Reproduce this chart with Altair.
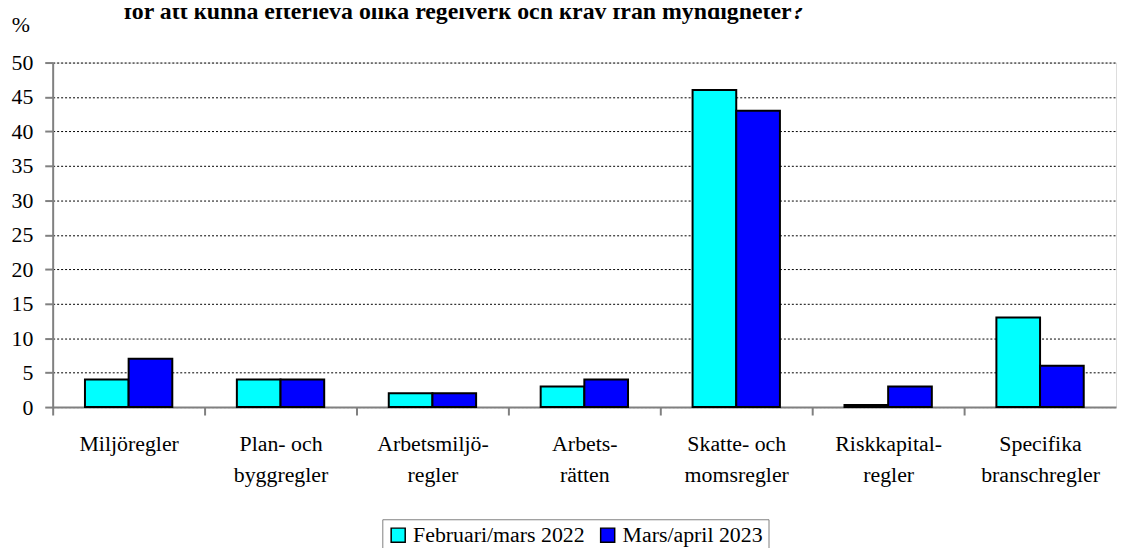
import altair as alt
import pandas as pd

categories = ["Miljöregler", "Plan- och\nbyggregler", "Arbetsmiljö-\nregler", "Arbets-\nrätten",
              "Skatte- och\nmomsregler", "Riskkapital-\nregler", "Specifika\nbranschregler"]
series = ["Februari/mars 2022", "Mars/april 2023"]
values_2022 = [4, 4, 2, 3, 46, 0.3, 13]
values_2023 = [7, 4, 2, 4, 43, 3, 6]
y_ticks = [0, 5, 10, 15, 20, 25, 30, 35, 40, 45, 50]
title_text = "för att kunna efterleva olika regelverk och krav från myndigheter?"
colors = ["#00FFFF", "#0000FF"]

rows = []
for c, a, b in zip(categories, values_2022, values_2023):
    rows.append({"kategori": c, "serie": series[0], "varde": a})
    rows.append({"kategori": c, "serie": series[1], "varde": b})
df = pd.DataFrame(rows)

FONT = "Liberation Serif"
FS = 22
W, H = 1071, 347

bars = alt.Chart(df).mark_bar(stroke="black", strokeWidth=2).encode(
    x=alt.X("kategori:N", sort=categories, title=None,
            scale=alt.Scale(paddingInner=0.425, paddingOuter=0.2125),
            axis=alt.Axis(labelAngle=0, labelFontSize=FS, labelFont=FONT, labelColor="black",
                          labelExpr="split(datum.value, '\\n')", labelLineHeight=31,
                          labelPadding=19, tickSize=8, tickColor="#808080", tickWidth=2,
                          tickOffset=-76.5, labelOffset=76.5, labelLimit=300,
                          domainColor="#808080", domainWidth=2, grid=False)),
    xOffset=alt.XOffset("serie:N", sort=series),
    y=alt.Y("varde:Q", title=None,
            scale=alt.Scale(domain=[0, 50], nice=False),
            axis=alt.Axis(values=y_ticks, labelFontSize=FS, labelFont=FONT, labelColor="black",
                          tickSize=8, tickColor="#808080", tickWidth=2, labelPadding=12,
                          domainColor="#808080", domainWidth=2,
                          grid=True, gridColor="black", gridDash=[2, 2], gridWidth=1)),
    color=alt.Color("serie:N", sort=series, title=None,
                    scale=alt.Scale(domain=series, range=colors),
                    legend=alt.Legend(orient="none", legendX=332, legendY=460, direction="horizontal",
                                      labelFontSize=FS, labelFont=FONT, labelColor="black",
                                      labelLimit=400,
                                      symbolType="square", symbolSize=200, symbolStrokeColor="black",
                                      symbolStrokeWidth=1.5, symbolOpacity=1,
                                      strokeColor="#808080", padding=5, columnPadding=12,
                                      labelOffset=4)),
)

title_df = pd.DataFrame({"t": [title_text]})
title = alt.Chart(title_df).mark_text(font=FONT, fontSize=24, fontWeight="bold", color="black",
                                      align="center", baseline="alphabetic").encode(
    x=alt.value(414), y=alt.value(-44), text="t:N")

pct_df = pd.DataFrame({"t": ["%"]})
pct = alt.Chart(pct_df).mark_text(font=FONT, fontSize=FS, color="black",
                                  align="center", baseline="middle").encode(
    x=alt.value(-32), y=alt.value(-38), text="t:N")

chart = alt.layer(bars, title, pct).properties(
    width=W, height=H,
    autosize=alt.AutoSizeParams(type="none"),
    padding={"left": 45, "top": 53, "right": 2, "bottom": 140},
).configure_view(stroke="#808080", strokeWidth=2).configure(background="white")

chart.save("out.html", embed_options={"renderer": "svg", "actions": False})
